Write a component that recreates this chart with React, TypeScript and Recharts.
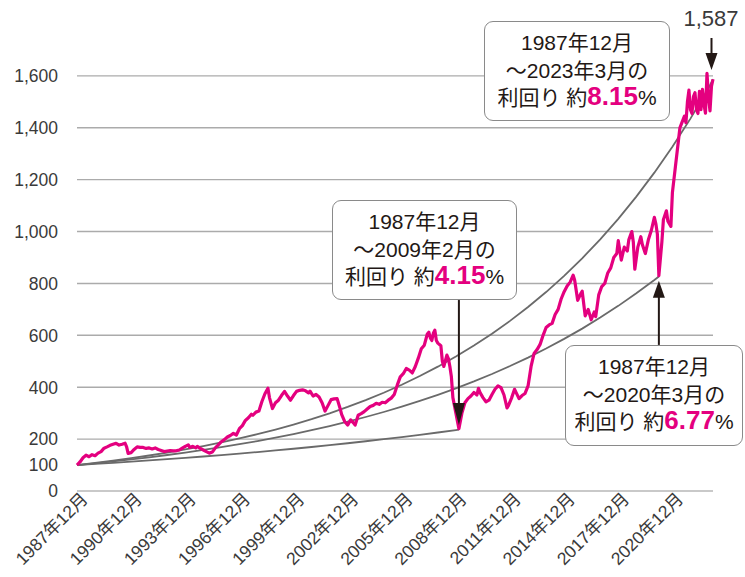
import React from 'react'
import { LineChart, Line, XAxis, YAxis, CartesianGrid, ReferenceLine, ReferenceDot } from 'recharts'

const FONT = "'Liberation Sans', Arial, 'Noto Sans CJK JP', sans-serif"
const PINK = '#e4007f'
const INK = '#231815'
const CURVE = '#6a6a6a'

// x = months since 1987-12
const monthTicks = [0, 36, 72, 108, 144, 180, 216, 252, 288, 324, 360, 396]
const tickLabels = [
  '1987年12月', '1990年12月', '1993年12月', '1996年12月', '1999年12月', '2002年12月',
  '2005年12月', '2008年12月', '2011年12月', '2014年12月', '2017年12月', '2020年12月',
]
const yTicks = [0, 100, 200, 400, 600, 800, 1000, 1200, 1400, 1600]
const gridValues = [200, 400, 600, 800, 1000, 1200, 1400, 1600]

// index (1987-12 = 100)
const pinkMonths = [
  0, 2, 4, 6, 8, 10, 12, 14, 16, 18,
  20, 22, 24, 26, 28, 30, 32, 33, 34, 36,
  38, 40, 42, 44, 46, 48, 50, 52, 54, 56,
  58, 60, 62, 64, 66, 68, 70, 72, 74, 75,
  77, 79, 80, 82, 84, 86, 88, 90, 92, 94,
  96, 98, 100, 102, 104, 106, 108, 110, 112, 114,
  116, 117, 119, 121, 123, 125, 127, 128, 130, 132,
  134, 136, 138, 140, 142, 144, 146, 148, 150, 152,
  154, 155, 157, 159, 161, 163, 165, 167, 169, 171,
  173, 175, 176, 178, 180, 182, 184, 185, 187, 189,
  191, 193, 195, 197, 199, 201, 203, 205, 207, 209,
  211, 213, 215, 217, 219, 221, 223, 225, 227, 229,
  231, 233, 234, 235, 236, 237, 238, 239, 240, 242,
  243, 244, 246, 247, 248, 249, 250, 252, 254, 256,
  258, 260, 262, 264, 266, 267, 268, 270, 272, 274,
  276, 278, 280, 282, 284, 286, 287, 289, 291, 292,
  294, 296, 298, 300, 302, 304, 306, 308, 310, 312,
  314, 316, 318, 320, 322, 324, 326, 328, 330, 331,
  333, 335, 336, 338, 340, 342, 344, 345, 347, 349,
  351, 353, 355, 357, 359, 360, 362, 364, 366, 367,
  369, 370, 371, 373, 375, 376, 378, 380, 382, 384,
  385, 386, 387, 389, 390, 392, 393, 395, 396, 398,
  400, 401, 402, 404, 405, 406, 407, 408, 409, 410,
  411, 412, 413, 414, 415, 416, 417, 418, 419, 420,
  421, 422, 423,
]
const pinkValues = [
  100, 112, 128, 138, 132, 140, 136, 146, 152, 165,
  170, 176, 180, 184, 177, 180, 184, 170, 145, 148,
  160, 170, 168, 168, 164, 166, 162, 166, 160, 156,
  152, 154, 156, 155, 155, 158, 165, 172, 178, 168,
  172, 166, 172, 164, 158, 152, 146, 150, 166, 178,
  190, 198, 208, 214, 222, 216, 240, 252, 272, 282,
  296, 292, 304, 308, 345, 375, 396, 360, 318, 340,
  350, 368, 384, 366, 350, 368, 384, 388, 390, 386,
  378, 385, 366, 372, 362, 340, 308, 330, 352, 355,
  356, 318, 295, 268, 254, 274, 262, 254, 292, 298,
  306, 316, 326, 330, 338, 334, 342, 340, 350, 358,
  372, 408, 440, 452, 472, 466, 455, 480, 512, 548,
  562, 605, 612, 590, 580, 608, 620, 580, 570, 560,
  500, 480, 524, 510, 480, 440, 360, 300, 240, 300,
  340, 356, 366, 380, 370, 396, 380, 360, 344, 350,
  372, 392, 405, 398, 370, 320, 330, 358, 392, 380,
  356, 368, 376, 405, 480, 530, 545, 565, 600, 630,
  640, 646, 680, 700, 740, 768, 790, 805, 832, 812,
  735, 760, 770, 675, 700, 660, 690, 672, 756, 788,
  800, 840, 860, 900, 915, 965, 890, 940, 925, 968,
  1000, 960, 855, 940, 980, 950, 915, 968, 1005, 1055,
  1030, 990, 830, 960, 1045, 1080, 1040, 1020, 1150, 1250,
  1350, 1400, 1415, 1445, 1420, 1500, 1545, 1470, 1455, 1520,
  1535, 1470, 1455, 1540, 1470, 1548, 1490, 1456, 1610, 1520,
  1465, 1560, 1587,
]

// reference curves (yearly points)
const curveA_Months = [0, 12, 24, 36, 48, 60, 72, 84, 96, 108, 120, 132, 144, 156, 168, 180, 192, 204, 216, 228, 240, 252, 254]
const curveA_Values = [100, 104.2, 108.5, 113, 117.7, 122.5, 127.6, 132.9, 138.4, 144.2, 150.2, 156.4, 162.9, 169.6, 176.7, 184, 191.7, 199.6, 207.9, 216.5, 225.5, 234.9, 236.5]

const curveB_Months = [0, 12, 24, 36, 48, 60, 72, 84, 96, 108, 120, 132, 144, 156, 168, 180, 192, 204, 216, 228, 240, 252, 264, 276, 288, 300, 312, 324, 336, 348, 360, 372, 384, 387]
const curveB_Values = [100, 106.8, 114, 121.7, 129.9, 138.7, 148.1, 158.1, 168.8, 180.3, 192.5, 205.5, 219.4, 234.3, 250.1, 267.1, 285.2, 304.5, 325.1, 347.1, 370.6, 395.7, 422.5, 451.1, 481.6, 514.2, 549, 586.2, 625.9, 668.3, 713.5, 761.8, 813.4, 827]

const curveC_Months = [0, 12, 24, 36, 48, 60, 72, 84, 96, 108, 120, 132, 144, 156, 168, 180, 192, 204, 216, 228, 240, 252, 264, 276, 288, 300, 312, 324, 336, 348, 360, 372, 384, 396, 408, 420, 423]
const curveC_Values = [100, 108.2, 117, 126.5, 136.8, 147.9, 160, 173, 187.1, 202.4, 218.9, 236.7, 256, 276.9, 299.5, 323.9, 350.3, 378.8, 409.7, 443.1, 479.2, 518.3, 560.5, 606.2, 655.6, 709, 766.8, 829.3, 896.9, 970, 1049.1, 1134.6, 1227, 1327, 1435.2, 1552.2, 1587]

const toRows = (ms: number[], vs: number[]) => ms.map((m, i) => ({ m, v: vs[i] }))
const pinkData = toRows(pinkMonths, pinkValues)
const curveA = toRows(curveA_Months, curveA_Values)
const curveB = toRows(curveB_Months, curveB_Values)
const curveC = toRows(curveC_Months, curveC_Values)

const XTick = (props: any) => {
  const { x, y, payload } = props
  const ax = x + 12
  const ay = y + 9
  return (
    <g transform={`translate(${ax}, ${ay}) rotate(-45)`}>
      <text x={0} y={0} textAnchor="end" fontSize={17.5} fill="#3a3a3a" fontFamily={FONT}>
        {tickLabels[monthTicks.indexOf(payload.value)]}
      </text>
    </g>
  )
}

const YTick = (props: any) => {
  const { x, y, payload } = props
  return (
    <text x={x} y={y} dy="0.36em" textAnchor="end" fontSize={17.5} fill="#3a3a3a" fontFamily={FONT}>
      {payload.value.toLocaleString('en-US')}
    </text>
  )
}

const headDown = (w: number, h: number) => (p: any) => (
  <polygon points={`${p.cx - w / 2},${p.cy - h} ${p.cx + w / 2},${p.cy - h} ${p.cx},${p.cy}`} fill={INK} />
)
const headUp = (w: number, h: number) => (p: any) => (
  <polygon points={`${p.cx - w / 2},${p.cy + h} ${p.cx + w / 2},${p.cy + h} ${p.cx},${p.cy}`} fill={INK} />
)

const boxBase: React.CSSProperties = {
  position: 'absolute',
  boxSizing: 'border-box',
  background: '#fff',
  border: '1.5px solid #8a8a8a',
  borderRadius: 9,
  textAlign: 'center',
  fontFamily: FONT,
  fontSize: 21,
  lineHeight: '27.5px',
  color: INK,
  paddingTop: 7,
  whiteSpace: 'nowrap',
}

function Callout({ left, top, width, height, until, rate }: {
  left: number; top: number; width: number; height: number; until: string; rate: string
}) {
  return (
    <div style={{ ...boxBase, left, top, width, height }}>
      <div>1987年12月</div>
      <div>〜{until}の</div>
      <div>
        利回り 約<span style={{ color: PINK, fontWeight: 700, fontSize: 26, lineHeight: '20px' }}>{rate}</span>%
      </div>
    </div>
  )
}

export default function App() {
  return (
    <div style={{ position: 'absolute', left: 0, top: 0, width: 745, height: 577, background: '#fff', fontFamily: FONT }}>
      <LineChart width={745} height={577} margin={{ top: 11, right: 32, left: 0, bottom: 0 }}>
        <CartesianGrid horizontal vertical={false} horizontalValues={gridValues} stroke="#ababab" strokeWidth={1.4} />
        <XAxis dataKey="m" type="number" domain={[0, 423]} ticks={monthTicks} height={86}
          axisLine={false} tickLine={false} tickSize={0} tickMargin={0} tick={<XTick />} interval={0} />
        <YAxis type="number" domain={[0, 1850]} ticks={yTicks} width={77}
          axisLine={false} tickLine={false} tickSize={0} tickMargin={19} tick={<YTick />} interval={0} />
        <ReferenceLine y={0} stroke="#c9c9c9" strokeWidth={2} />
        <Line data={curveA} dataKey="v" type="linear" stroke={CURVE} strokeWidth={1.8} dot={false} isAnimationActive={false} />
        <Line data={curveB} dataKey="v" type="linear" stroke={CURVE} strokeWidth={1.8} dot={false} isAnimationActive={false} />
        <Line data={curveC} dataKey="v" type="linear" stroke={CURVE} strokeWidth={1.8} dot={false} isAnimationActive={false} />
        <Line data={pinkData} dataKey="v" type="linear" stroke={PINK} strokeWidth={3.2} dot={false} isAnimationActive={false} strokeLinejoin="round" />
        <ReferenceLine segment={[{ x: 254, y: 736 }, { x: 254, y: 300 }]} stroke={INK} strokeWidth={2} />
        <ReferenceDot x={254} y={254} shape={headDown(12, 22)} />
        <ReferenceLine segment={[{ x: 387, y: 563 }, { x: 387, y: 780 }]} stroke={INK} strokeWidth={2} />
        <ReferenceDot x={387} y={810} shape={headUp(12, 17)} />
        <ReferenceLine segment={[{ x: 422, y: 1746 }, { x: 422, y: 1660 }]} stroke={INK} strokeWidth={2} />
        <ReferenceDot x={422} y={1623} shape={headDown(12, 17)} />
      </LineChart>
      <Callout left={484} top={21} width={186} height={100} until="2023年3月" rate="8.15" />
      <Callout left={332} top={200} width={185} height={100} until="2009年2月" rate="4.15" />
      <Callout left={565} top={345} width={178} height={101} until="2020年3月" rate="6.77" />
      <div style={{ position: 'absolute', left: 671, top: 6, width: 80, textAlign: 'center', fontSize: 22, color: '#3a3a3a', fontFamily: FONT }}>1,587</div>
    </div>
  )
}
